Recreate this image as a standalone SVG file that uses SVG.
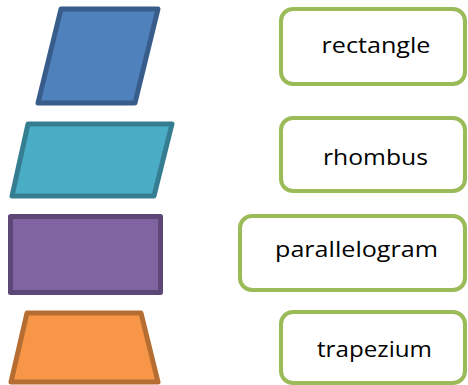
<svg xmlns="http://www.w3.org/2000/svg" width="468" height="385" viewBox="0 0 468 385">
<style>
.shape{stroke-width:5;stroke-linejoin:round}
.box{fill:#fff;stroke:#9BBB59;stroke-width:4}
.lbl{font-family:"Open Sans","Liberation Sans",sans-serif;font-size:21px;fill:#000;text-anchor:middle}
</style>
<rect width="468" height="385" fill="#fff"/>
<g id="shape-blue"><polygon class="shape" points="61,9 158,9 135,103 38,103" fill="#4F81BD" stroke="#385D8A"/></g>
<g id="shape-teal"><polygon class="shape" points="28,124 172,124 154,196 12,196" fill="#4BACC6" stroke="#357D91"/></g>
<g id="shape-purple"><rect class="shape" x="10.5" y="216.5" width="150" height="76" fill="#8064A2" stroke="#5C4776"/></g>
<g id="shape-orange"><polygon class="shape" points="27,313 141,313 158,382 11,382" fill="#F79646" stroke="#B66D31"/></g>
<g id="box-rectangle"><rect class="box" x="281" y="9" width="184" height="75" rx="12"/><text class="lbl" x="376" y="53" textLength="109" lengthAdjust="spacingAndGlyphs">rectangle</text></g>
<g id="box-rhombus"><rect class="box" x="281" y="118" width="184" height="73" rx="12"/><text class="lbl" x="375.5" y="165" textLength="105" lengthAdjust="spacingAndGlyphs">rhombus</text></g>
<g id="box-parallelogram"><rect class="box" x="240" y="216" width="225" height="74" rx="12"/><text class="lbl" x="356.5" y="257" textLength="163" lengthAdjust="spacingAndGlyphs">parallelogram</text></g>
<g id="box-trapezium"><rect class="box" x="281" y="312" width="184" height="71" rx="12"/><text class="lbl" x="374.5" y="357" textLength="115" lengthAdjust="spacingAndGlyphs">trapezium</text></g>
<g id="connectors"></g>
</svg>
